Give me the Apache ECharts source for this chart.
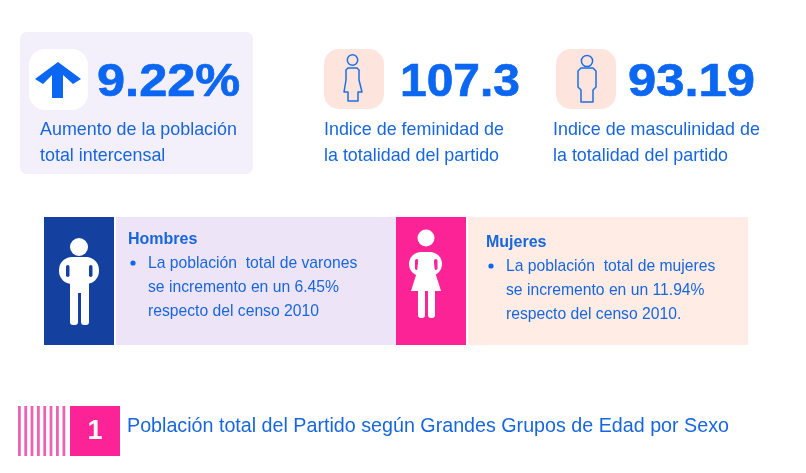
<!DOCTYPE html>
<html>
<head>
<meta charset="utf-8">
<title>Población</title>
<script src="https://cdn.jsdelivr.net/npm/echarts@6/dist/echarts.min.js"></script>
<style>
html, body { margin: 0; padding: 0; background: #fff; }
#chart { width: 806px; height: 473px; }
</style>
</head>
<body>
<div id="chart"></div>
<script>
// textos y valores
const kpiValues = ['9.22%', '107.3', '93.19'];
const kpiLabels = [
    ['Aumento de la población', 'total intercensal'],
    ['Indice de feminidad de', 'la totalidad del partido'],
    ['Indice de masculinidad de', 'la totalidad del partido']
];
const sexTitles = ['Hombres', 'Mujeres'];
const sexLines = [
    ['La población  total de varones', 'se incremento en un 6.45%', 'respecto del censo 2010'],
    ['La población  total de mujeres', 'se incremento en un 11.94%', 'respecto del censo 2010.']
];
const sectionNumber = '1';
const sectionTitle = 'Población total del Partido según Grandes Grupos de Edad por Sexo';

const BLUE = '#0b66f2';
const TEXT_BLUE = '#1766de';
const FONT = '"Liberation Sans", Arial, sans-serif';

const els = [];

function rect(x, y, w, h, fill, r) {
    els.push({ type: 'rect', shape: { x, y, width: w, height: h, r: r || 0 }, style: { fill } });
}
function circle(cx, cy, r, style) {
    els.push({ type: 'circle', shape: { cx, cy, r }, style });
}
function poly(points, fill) {
    els.push({ type: 'polygon', shape: { points }, style: { fill } });
}
function outline(points) {
    els.push({ type: 'polygon', shape: { points }, style: { fill: 'none', stroke: '#1f6fe0', lineWidth: 1.5, lineJoin: 'round' } });
}
function label(x, y, text, size, opts) {
    opts = opts || {};
    els.push({
        type: 'text', x, y,
        scaleX: opts.scaleX || 1,
        style: {
            text, fill: opts.fill || TEXT_BLUE,
            font: (opts.weight || 'normal') + ' ' + size + 'px ' + FONT,
            textAlign: opts.align || 'left', textVerticalAlign: 'middle',
            stroke: opts.stroke, lineWidth: opts.stroke ? 0.7 : 0
        }
    });
}

// tarjeta de aumento
rect(20, 32, 233, 142, '#f3effb', 7);
rect(29, 49, 59, 61, '#ffffff', 16);
poly([[58, 62], [81, 79], [73, 84], [63, 75], [63, 98], [52, 98], [52, 75], [43, 84], [35, 79]], BLUE);

// cuadros de los indices
rect(324, 49, 60, 60, '#fde5dd', 15);
rect(556, 49, 60, 60, '#fde5dd', 15);

// silueta mujer (contorno)
circle(352.5, 60, 5.2, { fill: 'none', stroke: '#1f6fe0', lineWidth: 1.5 });
outline([[348, 68], [357, 68], [359, 70], [359, 80], [362, 92], [358, 92], [358, 101], [348, 101], [348, 92], [344, 92], [346, 80], [346, 70]]);

// silueta hombre (contorno)
circle(587, 61, 5.6, { fill: 'none', stroke: '#1f6fe0', lineWidth: 1.5 });
outline([[581, 68], [593, 68], [596, 71], [596, 87], [593, 90], [593, 102], [581, 102], [581, 90], [578, 87], [578, 71]]);

// valores grandes
const valueX = [97, 400, 628];
const valueStretch = [1.075, 1.02, 1.08];
kpiValues.forEach((v, i) => {
    label(valueX[i], 83, v, 47, { fill: BLUE, weight: 'bold', scaleX: valueStretch[i], stroke: BLUE });
});

// etiquetas de los indicadores
const labelX = [40, 324, 553];
kpiLabels.forEach((lines, i) => {
    label(labelX[i], 130, lines[0], 17.9);
    label(labelX[i], 156, lines[1], 17.9);
});

// franja hombres / mujeres
rect(44, 217, 70, 128, '#1440a0');
rect(116, 217, 280, 128, '#ede4f8');
rect(396, 217, 70, 128, '#fb2396');
rect(468, 217, 280, 128, '#ffece4');

// figura hombre
const W = '#ffffff';
circle(79, 247, 9, { fill: W });
rect(59, 257, 40, 27, W, 13);
rect(66, 265, 3.5, 12, '#1440a0', 2);
rect(89, 265, 3.5, 12, '#1440a0', 2);
rect(70, 257, 19, 36, W, 3);
rect(70, 285, 8, 40, W, 3);
rect(81, 285, 8, 40, W, 3);

// figura mujer
circle(426, 238, 8.5, { fill: W });
rect(409, 252, 33, 24, W, 12);
rect(415, 259, 3.5, 11, '#fb2396', 2);
rect(434, 259, 3.5, 11, '#fb2396', 2);
poly([[419, 254], [433, 254], [435, 272], [441, 291], [411, 291], [417, 272]], W);
rect(418, 285, 7, 33, W, 3);
rect(428, 285, 7, 33, W, 3);

// textos de la franja
const sexX = [128, 486];
const sexTitleY = [240, 243];
sexTitles.forEach((t, i) => {
    label(sexX[i], sexTitleY[i], t, 16, { weight: 'bold' });
    circle(sexX[i] + 5, sexTitleY[i] + 23, 2.6, { fill: BLUE });
    sexLines[i].forEach((line, j) => {
        label(sexX[i] + 20, sexTitleY[i] + 24 + j * 24, line, 15.7);
    });
});

// encabezado de seccion
const stripeX = [18, 24.3, 30.6, 37, 43.3, 49.6, 56, 62.5];
stripeX.forEach(x => rect(x, 406, 2.8, 50, '#ef62b0'));
rect(70, 406, 50, 50, '#fb2396');
label(95, 432, sectionNumber, 27, { fill: '#ffffff', weight: 'bold', align: 'center' });
label(127, 427, sectionTitle, 19.7);

const myChart = echarts.init(document.getElementById('chart'), null, { renderer: 'canvas' });
myChart.setOption({ animation: false, backgroundColor: '#ffffff', graphic: { elements: els } });
</script>
</body>
</html>
